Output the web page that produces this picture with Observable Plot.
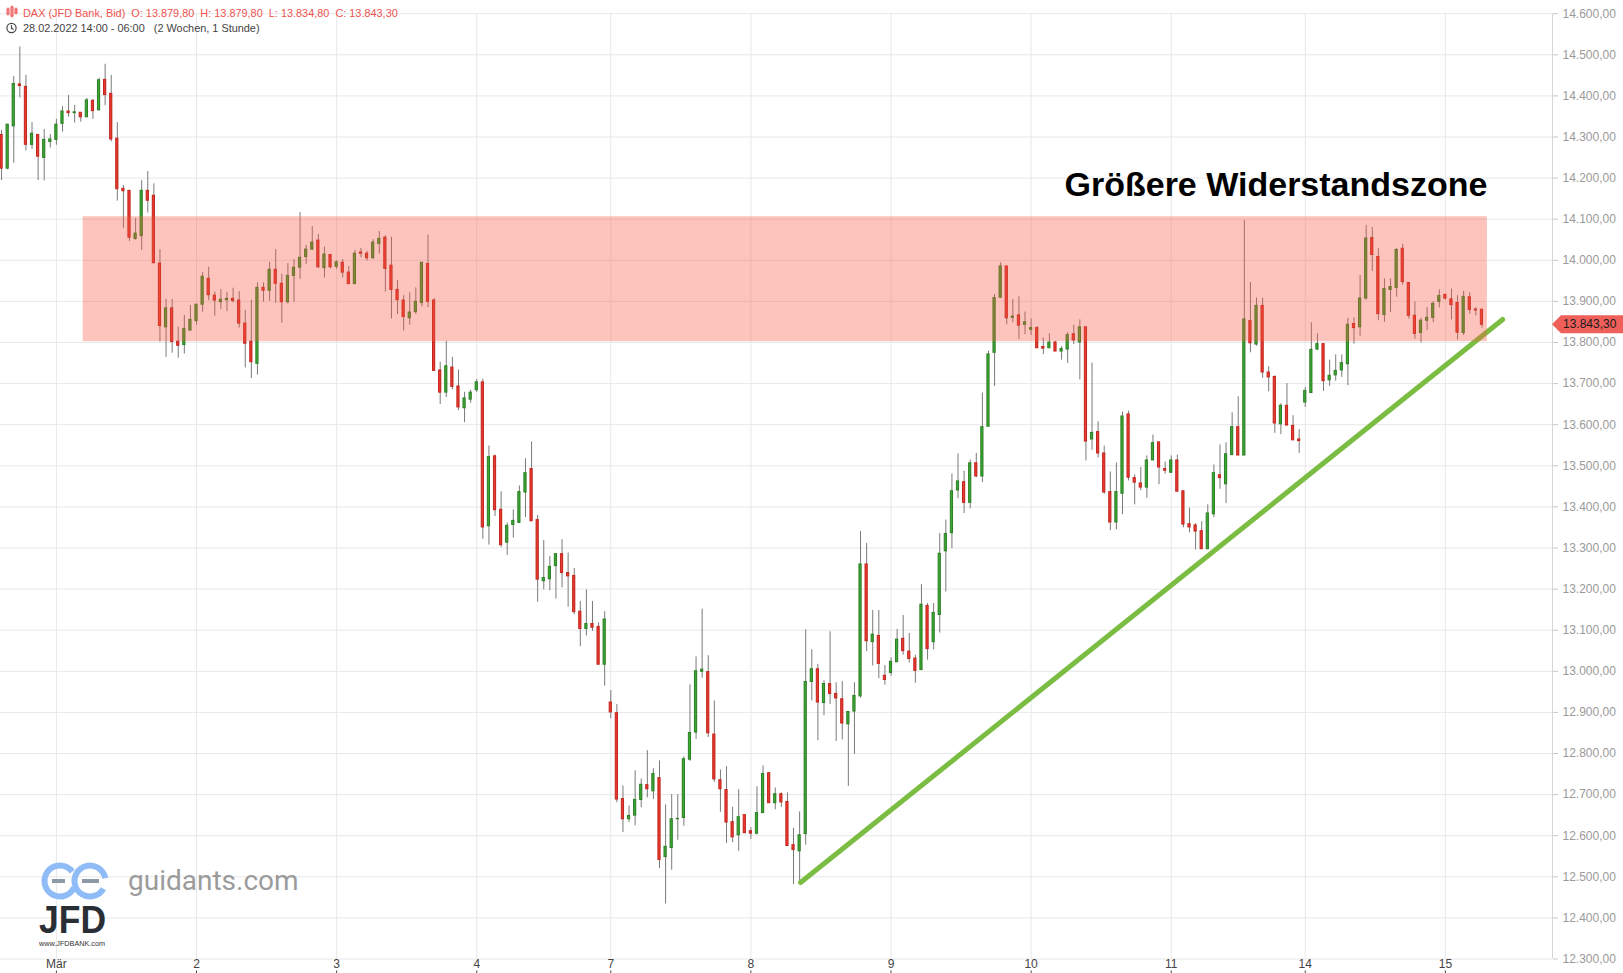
<!DOCTYPE html>
<html><head><meta charset="utf-8">
<script src="https://cdn.jsdelivr.net/npm/d3@7"></script>
<script src="https://cdn.jsdelivr.net/npm/@observablehq/plot@0.6"></script>
<style>
html,body{margin:0;padding:0;background:#fff;}
#wrap{position:relative;width:1623px;height:973px;overflow:hidden;background:#fff;}
#chart{position:absolute;left:0;top:0;}
#overlay{position:absolute;left:0;top:0;pointer-events:none;font-family:'Liberation Sans',Arial,sans-serif;}
</style></head><body>
<div id="wrap"><div id="chart"></div><svg id="overlay" width="1623" height="973"></svg></div>
<script>
// ---- Data: DAX (JFD Bank, Bid), 1h candles, 28.02.2022 14:00 - 15.03.2022 06:00 ----
const openP = [
14305,14223,14326,14428,14422,14281,14305,14249,14288,14293,
14332,14362,14358,14359,14348,14388,14365,14439,14405,14296,
14174,14169,14052,14059,14169,14157,13992,13837,13883,13802,
13794,13829,13852,13892,13955,13914,13898,13903,13906,13902,
13846,13802,13748,13933,13926,13977,13943,13898,13962,13982,
14008,14026,14048,13981,14013,13984,13994,13970,13942,14019,
14016,14005,14040,14055,13987,13928,13902,13859,13874,13896,
13991,13902,13732,13678,13739,13693,13640,13661,13684,13703,
13353,13523,13393,13313,13356,13361,13435,13492,13368,13219,
13224,13256,13285,13239,13232,13145,13103,13115,13108,13016,
12924,12898,12689,12640,12649,12687,12723,12708,12740,12548,
12570,12640,12643,12785,12851,12999,12998,12846,12735,12711,
12633,12601,12650,12611,12605,12655,12752,12679,12701,12682,
12577,12562,12604,12974,13005,12923,12969,12945,12932,12871,
12902,12939,13260,13071,13086,12989,12996,13022,13079,13048,
13031,13003,13159,13071,13137,13292,13336,13440,13460,13410,
13506,13474,13595,13775,13909,13985,13860,13866,13843,13831,
13835,13789,13786,13800,13778,13783,13820,13800,13837,13564,
13582,13530,13436,13362,13432,13625,13470,13457,13447,13513,
13557,13492,13483,13513,13438,13358,13355,13341,13297,13382,
13477,13455,13526,13594,13525,13852,13795,13889,13727,13716,
13601,13646,13597,13564,13654,13677,13783,13796,13708,13720,
13732,13747,13845,13837,13907,14054,14008,13867,13928,13933,
14028,13945,13865,13823,13853,13860,13899,13916,13905,13896,
13823,13910,13880,13879.8];
const highP = [
14316,14330,14447,14519,14450,14335,14305,14318,14306,14343,
14374,14401,14377,14359,14394,14391,14443,14477,14450,14335,
14182,14169,14102,14194,14216,14186,14026,13905,13905,13837,
13866,13890,13892,13970,13983,13923,13929,13922,13932,13924,
13878,13903,13945,13945,13995,14026,13966,13992,14002,14116,
14036,14082,14063,14032,14013,13999,14002,13985,14024,14029,
14022,14050,14070,14060,14056,13951,13914,13921,13933,13994,
14061,13907,13752,13803,13764,13733,13679,13684,13710,13711,
13548,13526,13437,13361,13393,13451,13517,13558,13379,13318,
13279,13285,13320,13288,13250,13170,13198,13170,13118,13145,
12953,12919,12721,12672,12758,12738,12807,12763,12782,12675,
12700,12700,12792,12967,13035,13151,13038,12928,12760,12768,
12669,12712,12650,12620,12719,12770,12752,12716,12704,12704,
12618,12658,13101,13052,13017,12977,13096,12972,12975,12901,
12972,13340,13311,13148,13148,13014,13033,13102,13136,13092,
13039,13211,13165,13165,13335,13368,13480,13529,13487,13514,
13530,13677,13779,13917,13994,13985,13905,13911,13874,13857,
13839,13811,13821,13803,13790,13824,13842,13855,13837,13750,
13607,13548,13485,13507,13631,13633,13478,13496,13524,13575,
13557,13509,13524,13526,13438,13397,13359,13364,13405,13502,
13551,13556,13629,13668,14097,13946,13908,13908,13741,13719,
13651,13700,13622,13588,13690,13848,13821,13796,13757,13770,
13770,13859,13860,13963,14085,14080,14028,13955,13955,14029,
14039,13945,13899,13859,13885,13899,13928,13917,13930,13914,
13925,13921,13885,13879.8];
const lowP = [
14194,14220,14236,14395,14266,14270,14194,14193,14273,14280,
14312,14348,14334,14336,14348,14343,14363,14376,14288,14144,
14078,14046,14049,14024,14115,13991,13801,13764,13774,13762,
13772,13828,13842,13874,13902,13864,13880,13875,13896,13835,
13738,13712,13721,13898,13900,13895,13847,13894,13898,13954,
13990,14024,13980,13957,13979,13978,13957,13942,13942,14006,
13998,14002,14015,13923,13857,13868,13828,13842,13868,13887,
13885,13731,13649,13666,13685,13634,13605,13652,13678,13321,
13307,13377,13301,13282,13324,13360,13374,13365,13168,13198,
13196,13176,13203,13156,13138,13060,13086,13097,13016,12964,
12885,12680,12608,12632,12624,12668,12692,12688,12520,12434,
12516,12589,12623,12781,12834,12983,12839,12730,12657,12581,
12583,12562,12606,12591,12602,12655,12679,12663,12669,12575,
12481,12482,12577,12928,12831,12892,12919,12829,12833,12720,
12798,12935,13048,13013,12982,12966,12988,13022,13039,13020,
12971,13003,13027,13052,13093,13193,13298,13420,13384,13395,
13471,13459,13595,13693,13907,13843,13848,13807,13819,13817,
13786,13770,13786,13778,13757,13749,13795,13709,13512,13538,
13519,13431,13342,13344,13381,13463,13405,13439,13421,13513,
13454,13480,13483,13437,13349,13337,13295,13297,13297,13374,
13443,13408,13526,13525,13525,13775,13791,13713,13680,13579,
13576,13598,13562,13530,13642,13677,13780,13681,13693,13706,
13715,13695,13796,13815,13903,13973,13853,13849,13873,13910,
13939,13857,13808,13799,13829,13848,13884,13903,13855,13806,
13817,13869,13865,13834.8];
const closeP = [
14223,14330,14429,14424,14281,14308,14252,14293,14294,14330,
14362,14358,14360,14348,14389,14363,14438,14402,14294,14173,
14168,14055,14065,14169,14145,13993,13840,13883,13801,13792,
13833,13855,13892,13960,13915,13902,13904,13906,13901,13846,
13797,13752,13933,13926,13977,13943,13898,13962,13982,14006,
14026,14043,13983,14014,13983,13995,13970,13942,14016,14016,
14005,14043,14052,13979,13928,13903,13862,13873,13899,13994,
13899,13731,13678,13742,13692,13642,13664,13678,13703,13350,
13521,13392,13307,13354,13366,13436,13482,13365,13223,13227,
13254,13285,13239,13231,13144,13103,13115,13106,13016,13126,
12900,12688,12640,12648,12687,12724,12713,12750,12541,12573,
12640,12641,12786,12850,13000,13004,12849,12737,12713,12632,
12596,12645,12606,12605,12655,12750,12679,12701,12681,12575,
12565,12601,12974,13005,12924,12969,12945,12934,12873,12901,
12940,13260,13073,13089,13018,12979,13023,13077,13049,13030,
13001,13162,13054,13142,13286,13334,13438,13462,13410,13506,
13474,13594,13771,13908,13985,13859,13863,13841,13849,13835,
13786,13785,13800,13778,13784,13818,13805,13837,13559,13580,
13530,13435,13362,13436,13620,13471,13459,13447,13513,13555,
13496,13488,13513,13437,13357,13350,13340,13297,13384,13482,
13470,13528,13594,13525,13856,13798,13889,13727,13715,13603,
13646,13598,13562,13560,13682,13782,13796,13706,13719,13731,
13750,13843,13835,13907,14053,14013,13869,13930,13935,14025,
13947,13865,13821,13853,13860,13894,13913,13907,13891,13824,
13911,13879,13878,13843.3];

// x-axis: first candle of each trading day (candle index) and its label
const dayTickIndex  = [9, 32, 55, 78, 100, 123, 146, 169, 192, 214, 237];
const dayTickLabels = ["Mär", "2", "3", "4", "7", "8", "9", "10", "11", "14", "15"];
const priceTicks = d3.range(12300, 14601, 100);

// annotations
const zoneLow = 13802, zoneHigh = 14106, zoneStartIdx = 13.4, zoneEndIdx = 243.9;
const trendIdx = [131.15, 246.4], trendPrice = [12486, 13856];
const titleText = "Größere Widerstandszone";
const titlePrice = 14182;
const instrument = "DAX (JFD Bank, Bid)";
const rangeText = "28.02.2022 14:00 - 06:00";
const periodText = "(2 Wochen, 1 Stunde)";

// ---- build ----
const de = d3.formatLocale({decimal: ",", thousands: ".", grouping: [3], currency: ["", ""]});
const fmt = de.format(",.2f");
const candles = openP.map((o, i) => ({i, open: o, high: highP[i], low: lowP[i], close: closeP[i]}));
const isUp = d => d.close >= d.open;
const trend = trendIdx.map((i, k) => ({i, p: trendPrice[k]}));
const zone = {x1: zoneStartIdx, x2: zoneEndIdx, y1: zoneLow, y2: zoneHigh};

const W = 1623, H = 973, plotRight = 1552;
const pxPerBar = 6.092, firstBarPx = 1.07;
const xDomain = [-firstBarPx / pxPerBar, (plotRight - firstBarPx) / pxPerBar];

const chart = Plot.plot({
  width: W, height: H,
  marginLeft: 0, marginRight: W - plotRight, marginTop: 13.2, marginBottom: 14.5,
  x: {type: "linear", domain: xDomain, label: null},
  y: {domain: [12300, 14600], label: null},
  style: {background: "#fff", fontFamily: "'Liberation Sans', Arial, sans-serif", fontSize: "12px", overflow: "visible"},
  marks: [
    Plot.gridY(priceTicks, {stroke: "#e8e8e8", strokeOpacity: 1}),
    Plot.gridX(dayTickIndex, {stroke: "#e8e8e8", strokeOpacity: 1}),
    Plot.ruleX(candles, {x: "i", y1: "low", y2: "high", stroke: "#7a7a7a", strokeWidth: 1}),
    Plot.rect(candles, {
      x1: d => d.i - 0.18, x2: d => d.i + 0.18, y1: "open", y2: "close",
      fill: d => isUp(d) ? "#3ca833" : "#ec3a2f",
      stroke: d => isUp(d) ? "#2b7f24" : "#c1251d", strokeWidth: 1
    }),
    Plot.line(trend, {x: "i", y: "p", stroke: "#7abd42", strokeWidth: 5, strokeLinecap: "round"}),
    Plot.rect([zone], {x1: "x1", x2: "x2", y1: "y1", y2: "y2", fill: "#f5563f", fillOpacity: 0.35}),
    Plot.text([titleText], {x: zoneEndIdx, y: titlePrice, text: d => d, textAnchor: "end",
      fontSize: 34, fontWeight: "bold", fill: "#000"}),
    Plot.ruleX([xDomain[1]], {stroke: "#d6d6d6"}),
    Plot.axisY(priceTicks, {anchor: "right", tickFormat: fmt, tickSize: 5, tickPadding: 5,
      fontSize: 12, stroke: "#c8c8c8", fill: "#9a9a9a", label: null}),
    Plot.axisX(dayTickIndex, {anchor: "bottom", tickFormat: d => dayTickLabels[dayTickIndex.indexOf(d)],
      tickSize: 0, tickPadding: 0, fontSize: 12, fill: "#444", label: null}),
    Plot.axisX(dayTickIndex, {anchor: "bottom", tickFormat: () => "", tickSize: 3, dy: 12,
      stroke: "#444", label: null})
  ]
});
document.getElementById("chart").appendChild(chart);

// last price tag on the right axis
const last = candles[candles.length - 1];
const yLast = chart.scale("y").apply(last.close);
const svg = d3.select(chart);
svg.append("polygon")
  .attr("points", [[plotRight, yLast], [plotRight + 9, yLast - 9], [W, yLast - 9], [W, yLast + 9], [plotRight + 9, yLast + 9]].map(p => p.join(",")).join(" "))
  .attr("fill", "#f0605a");
svg.append("text").attr("x", 1563).attr("y", yLast + 4.2).attr("text-anchor", "start")
  .attr("font-size", 12).attr("fill", "#1a1a1a").text(fmt(last.close));

// header + logo overlay
const ov = d3.select("#overlay");
// small candle icon
const ic = ov.append("g").attr("fill", "none").attr("stroke", "#ef5350").attr("stroke-width", 1);
[[7, 9, 14], [11, 7, 16], [15, 9, 13]].forEach(([x, a, b]) => {
  ic.append("line").attr("x1", x + 1).attr("x2", x + 1).attr("y1", a - 1.5).attr("y2", b + 1.5);
  ic.append("rect").attr("x", x).attr("y", a).attr("width", 2).attr("height", b - a);
});
ov.append("text").attr("x", 23).attr("y", 16.5).attr("font-size", 10.9).attr("fill", "#ef5350")
  .attr("xml:space", "preserve")
  .text(`${instrument}  O: ${fmt(last.open)}  H: ${fmt(last.high)}  L: ${fmt(last.low)}  C: ${fmt(last.close)}`);
// clock icon
const ck = ov.append("g").attr("stroke", "#444").attr("fill", "none").attr("stroke-width", 1.2);
ck.append("circle").attr("cx", 11.5).attr("cy", 28).attr("r", 4.6);
ck.append("polyline").attr("points", "11.5,25.3 11.5,28.3 13.6,29.6");
ov.append("text").attr("x", 23).attr("y", 32).attr("font-size", 10.9).attr("fill", "#444")
  .attr("xml:space", "preserve").text(`${rangeText}   ${periodText}`);

// guidants / JFD logo
const lg = ov.append("g");
lg.append("circle").attr("cx", 60).attr("cy", 881).attr("r", 15.5).attr("fill", "none")
  .attr("stroke", "#8fbcf7").attr("stroke-width", 6).attr("stroke-dasharray", "80 18").attr("transform", "rotate(25 60 881)");
lg.append("circle").attr("cx", 90).attr("cy", 881).attr("r", 15.5).attr("fill", "none")
  .attr("stroke", "#8fbcf7").attr("stroke-width", 6).attr("stroke-dasharray", "86 12").attr("transform", "rotate(30 90 881)");
lg.append("line").attr("x1", 52).attr("x2", 65).attr("y1", 881).attr("y2", 881).attr("stroke", "#8e99a6").attr("stroke-width", 4);
lg.append("line").attr("x1", 82).attr("x2", 99).attr("y1", 881).attr("y2", 881).attr("stroke", "#8e99a6").attr("stroke-width", 4);
lg.append("text").attr("x", 128).attr("y", 890).attr("font-family", "Roboto, sans-serif").attr("font-size", 28)
  .attr("fill", "#9b9b9b").text("guidants.com");
lg.append("text").attr("x", 39).attr("y", 933).attr("font-size", 38).attr("font-weight", "bold")
  .attr("fill", "#2a2f36").attr("textLength", 67).attr("lengthAdjust", "spacingAndGlyphs").text("JFD");
lg.append("text").attr("x", 39).attr("y", 946).attr("font-size", 7).attr("fill", "#333")
  .attr("textLength", 66).attr("lengthAdjust", "spacingAndGlyphs").text("www.JFDBANK.com");
</script></body></html>
